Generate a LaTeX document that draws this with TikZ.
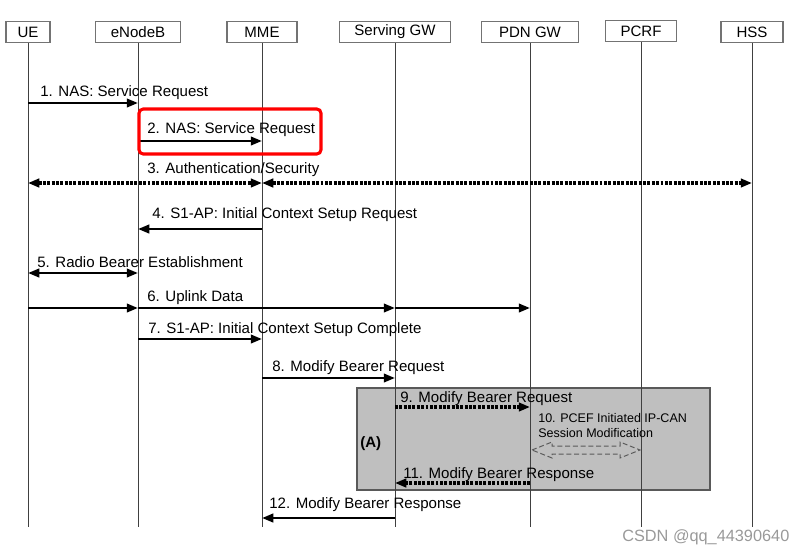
\documentclass[tikz,border=0pt]{standalone}
\usepackage{fontspec}
\setmainfont{Liberation Sans}
\usetikzlibrary{arrows.meta}

\begin{document}
\begin{tikzpicture}[x=0.025cm, y=-0.025cm, font=\fontsize{10.7}{13}\selectfont,
      >={Triangle[length=8pt,width=6pt]},
      ent/.style={draw=black!55, line width=0.9pt, minimum height=0.525cm, inner sep=0pt},
      life/.style={black!75, line width=0.7pt},
      msg/.style={line width=1.8pt, ->},
      dmsg/.style={line width=2.2pt, dash pattern=on 2.1pt off 1pt, ->},
      lbl/.style={anchor=base west, inner sep=0pt}]
    % one unit = one pixel of the 806 x 554 original, y running downwards;
    % labels sit on their baseline a few pixels above their arrow.
    \useasboundingbox (0,0) rectangle (806,554);
    \draw[draw=black!65, fill=black!25, line width=0.8pt] (357,388) rectangle (710,490);
    \node[ent, minimum width=1.1cm] (ue) at (28,32) {UE};
    \node[ent, minimum width=2.125cm] (enb) at (138,32) {eNodeB};
    \node[ent, minimum width=1.75cm] (mme) at (262,32) {MME};
    \node[ent, minimum width=2.775cm] (sgw) at (395,32) {Serving GW};
    \node[ent, minimum width=2.425cm] (pgw) at (530,32) {PDN GW};
    \node[ent, minimum width=1.775cm] (pcrf) at (641,31) {PCRF};
    \node[ent, minimum width=1.55cm] (hss) at (752,32) {HSS};
    \draw[life] (ue) -- (ue |- 0,527);
    \draw[life] (enb) -- (enb |- 0,527);
    \draw[life] (mme) -- (mme |- 0,527);
    \draw[life] (sgw) -- (sgw |- 0,527);
    \draw[life] (pgw) -- (pgw |- 0,527);
    \draw[life] (pcrf) -- (pcrf |- 0,527);
    \draw[life] (hss) -- (hss |- 0,527);
    \draw[msg] (ue |- 0,103) -- (enb |- 0,103);
    \node[lbl] (l1) at (40,96) {1. NAS: Service Request};
    \draw[msg] (enb |- 0,141) -- (mme |- 0,141);
    \node[lbl] (l2) at (147,133) {2. NAS: Service Request};
    \draw[dmsg, <->] (ue |- 0,183) -- (mme |- 0,183);
    \draw[dmsg, <->] (mme |- 0,183) -- (hss |- 0,183);
    \node[lbl] (l3) at (147,173) {3. Authentication/Security};
    \draw[msg] (mme |- 0,229) -- (enb |- 0,229);
    \node[lbl] (l4) at (152,218) {4. S1-AP: Initial Context Setup Request};
    \draw[msg, <->] (ue |- 0,273) -- (enb |- 0,273);
    \node[lbl] (l5) at (37,267) {5. Radio Bearer Establishment};
    \draw[msg] (ue |- 0,308) -- (enb |- 0,308);
    \draw[msg] (enb |- 0,308) -- (sgw |- 0,308);
    \draw[msg] (sgw |- 0,308) -- (pgw |- 0,308);
    \node[lbl] (l6) at (147,301) {6. Uplink Data};
    \draw[msg] (enb |- 0,339) -- (mme |- 0,339);
    \node[lbl] (l7) at (148,333) {7. S1-AP: Initial Context Setup Complete};
    \draw[msg] (mme |- 0,378) -- (sgw |- 0,378);
    \node[lbl] (l8) at (272,371) {8. Modify Bearer Request};
    \draw[dmsg] (sgw |- 0,407) -- (pgw |- 0,407);
    \node[lbl] (l9) at (400,402) {9. Modify Bearer Request};
    \node[lbl, font=\fontsize{8.9}{11}\selectfont] (l10a) at (538,422) {10. PCEF Initiated IP-CAN};
    \node[lbl, font=\fontsize{8.9}{11}\selectfont] (l10b) at (538,437) {Session Modification};
    \draw[black!65, line width=0.7pt, dash pattern=on 3.5pt off 2pt] (532,450) -- (552,442) -- (552,446)
      -- (620,446) -- (620,442) -- (640,450) -- (620,458) -- (620,454) -- (552,454) -- (552,458) -- cycle;
    \node[lbl, font=\fontsize{10.7}{13}\selectfont\bfseries] (grpa) at (360,447) {(A)};
    \draw[dmsg] (pgw |- 0,483) -- (sgw |- 0,483);
    \node[lbl] (l11) at (403,478) {11. Modify Bearer Response};
    \draw[msg] (sgw |- 0,518) -- (mme |- 0,518);
    \node[lbl] (l12) at (269,508) {12. Modify Bearer Response};
    \draw[red, line width=2.2pt, rounded corners=3] (139,109) rectangle (321,154);
    \node[lbl, text=black!40, font=\fontsize{11.6}{14}\selectfont] (wm) at (622,541) {CSDN @qq\_44390640};
\end{tikzpicture}
\end{document}
